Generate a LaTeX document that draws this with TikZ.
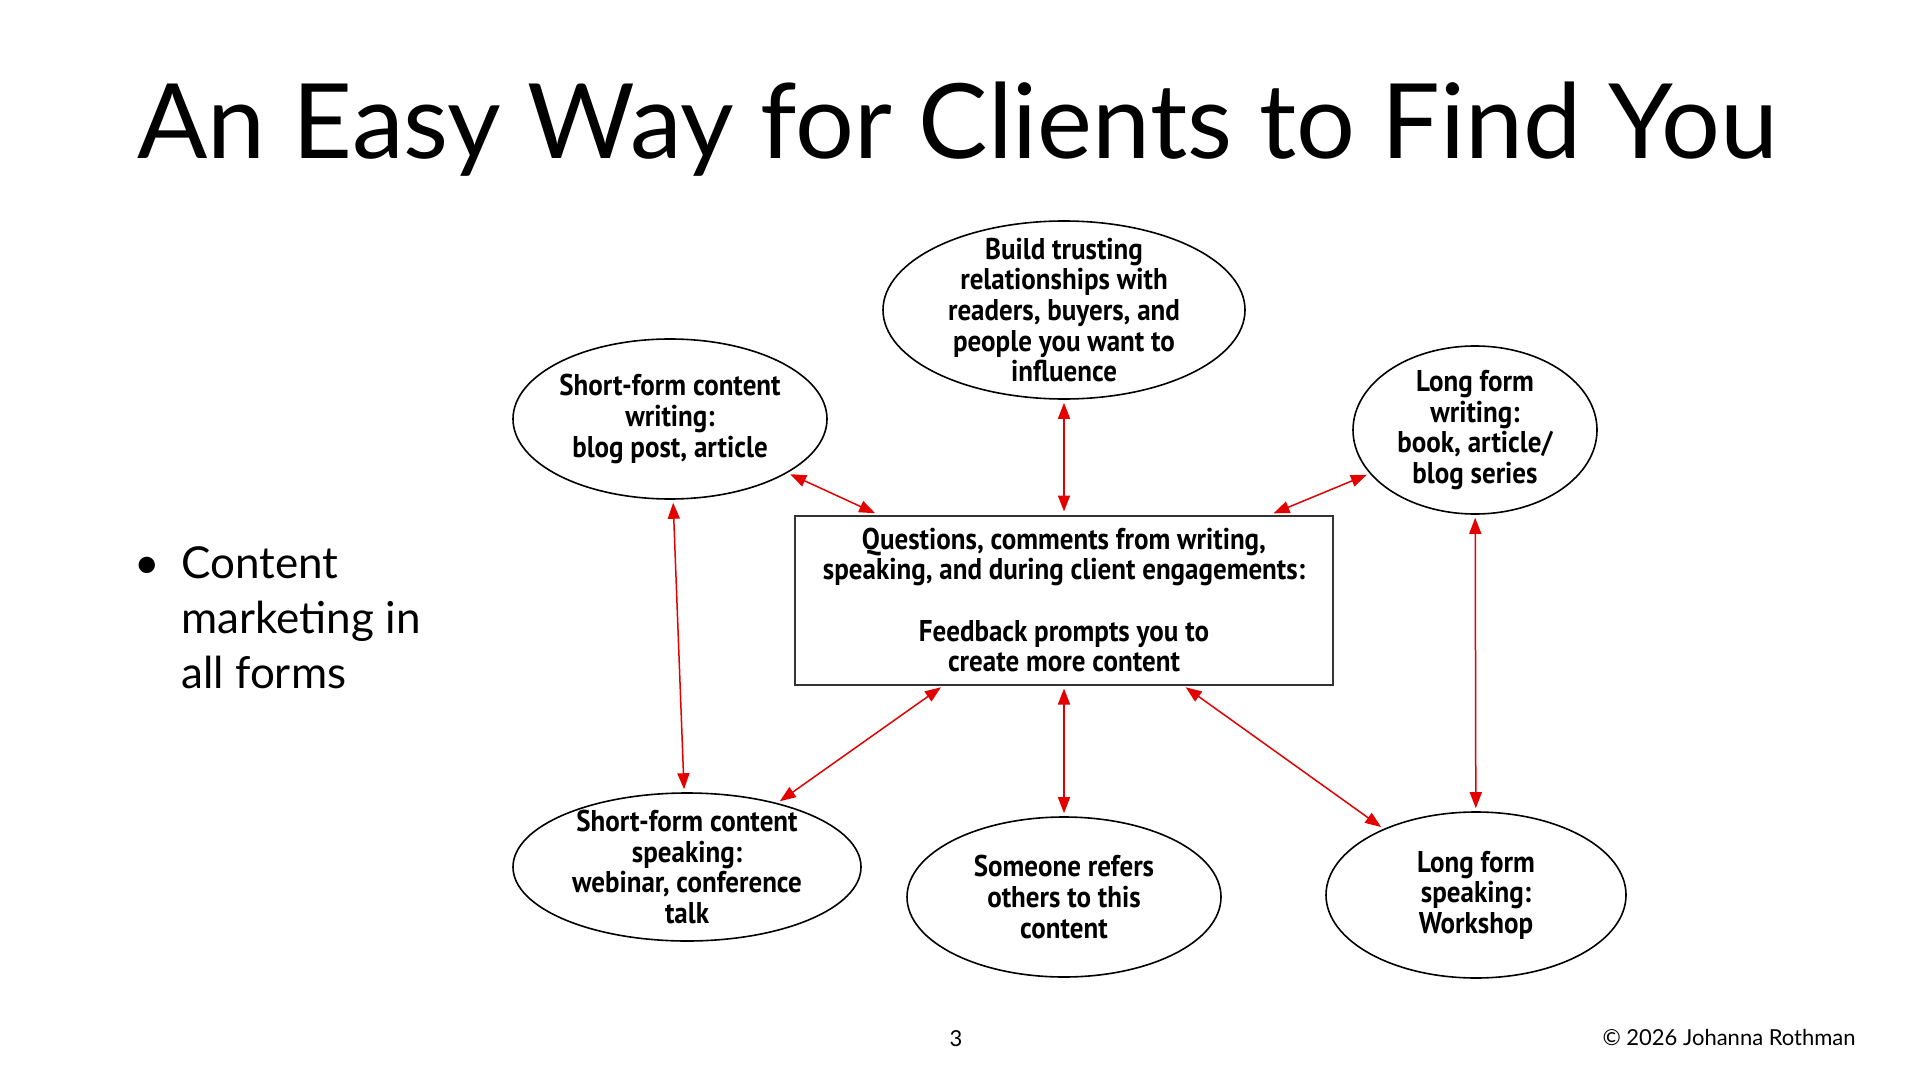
\documentclass[tikz,border=0pt]{standalone}
\usepackage{fontspec}
\setmainfont{Lato}
\newfontfamily\hand[FakeStretch=0.9]{PT Sans}
\usetikzlibrary{arrows.meta,shapes.geometric}
\tikzset{
  bubble/.style={ellipse, draw=black, line width=0.8pt, inner sep=0pt},
  bubtext/.style={align=center, inner sep=0pt,
    font=\hand\bfseries\fontsize{15}{15.3}\selectfont},
  centerbox/.style={rectangle, draw=black!80, line width=1pt, inner sep=0pt, align=center,
    minimum width=269pt, minimum height=84.5pt,
    font=\hand\bfseries\fontsize{15}{15.3}\selectfont},
  link/.style={draw=red!90!black, line width=0.75pt,
    {Triangle[length=8pt,width=6pt]}-{Triangle[length=8pt,width=6pt]},
    shorten <=1.5pt, shorten >=1.5pt},
}
\begin{document}
\begin{tikzpicture}[x=0.5pt,y=-0.5pt]
\useasboundingbox[fill=white] (0,0) rectangle (1920,1080);
% title
\node[anchor=base, font=\fontsize{52}{60}\selectfont] (title) at (958,159) {An Easy Way for Clients to Find You};
% bullet
\node[anchor=base, font=\fontsize{22}{27.5}\selectfont] (dot) at (147,578) {•};
\node[anchor=base west, align=left, font=\fontsize{22}{27.5}\selectfont, inner sep=0pt] (bul) at (181,688)
  {Content\\marketing in\\all forms};
% nodes
\node[bubble, minimum width=181pt, minimum height=89pt,
  label={[bubtext]center:{Build trusting\\relationships with\\readers, buyers, and\\people you want to\\influence}}] (build) at (1064,310) {};
\node[bubble, minimum width=157pt, minimum height=80pt,
  label={[bubtext]center:{Short-form content\\writing:\\blog post, article}}] (sfw) at (670,419) {};
\node[bubble, minimum width=122pt, minimum height=84pt,
  label={[bubtext]center:{Long form\\writing:\\book, article/\\blog series}}] (lfw) at (1475,430) {};
\node[centerbox] (box) at (1064,600)
  {Questions, comments from writing,\\speaking, and during client engagements:\\[15.3pt]Feedback prompts you to\\create more content};
\node[bubble, minimum width=174pt, minimum height=74pt,
  label={[bubtext]center:{Short-form content\\speaking:\\webinar, conference\\talk}}] (sfs) at (687,867) {};
\node[bubble, minimum width=157pt, minimum height=80pt,
  label={[bubtext]center:{Someone refers\\others to this\\content}}] (ref) at (1064,897) {};
\node[bubble, minimum width=150pt, minimum height=83pt,
  label={[bubtext]center:{Long form\\speaking:\\Workshop}}] (lfs) at (1476,895) {};
% connectors
\draw[link] (build) -- (box);
\draw[link] (sfw) -- (box);
\draw[link] (lfw) -- (box);
\draw[link] (sfw) -- (sfs);
\draw[link] (lfw) -- (lfs);
\draw[link] (box) -- (sfs);
\draw[link] (box) -- (ref);
\draw[link] (box) -- (lfs);
% footer
\node[anchor=base, font=\fontsize{11}{13}\selectfont] (page) at (956,1046) {3};
\node[anchor=base east, font=\fontsize{11}{13}\selectfont, inner sep=0pt] (copy) at (1856,1045) {© 2026 Johanna Rothman};
\end{tikzpicture}
\end{document}
